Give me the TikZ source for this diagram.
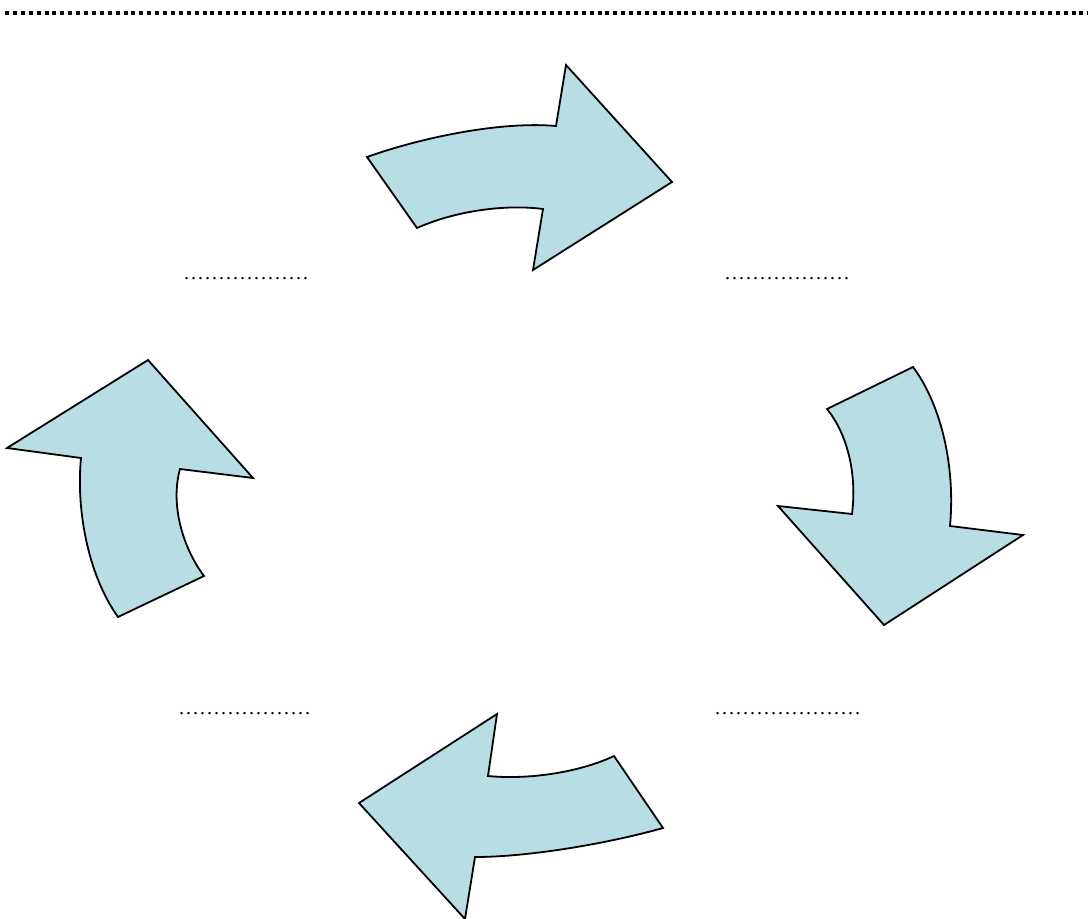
\documentclass[tikz,border=0pt]{standalone}
\usepackage{fontspec}
\setmainfont{Liberation Serif}
\newfontfamily\dotfont[LetterSpace=10]{Liberation Serif}
\definecolor{arrowfill}{RGB}{184,222,228}
\begin{document}
\begin{tikzpicture}[x=1pt,y=-1pt,
  cyclearrow/.style={fill=arrowfill,draw=black,line width=1.8pt,line join=miter},
  dotlabel/.style={anchor=base west,inner sep=0pt,font=\dotfont\fontsize{20}{20}\selectfont},
  border/.style={line width=4pt,dash pattern=on 4pt off 3.9pt}]
\useasboundingbox (0,0) rectangle (1088,919);
% top page border
\coordinate (bl) at (5,13.3);
\coordinate (br) at (1088,13.3);
\draw[border] (bl) -- (br);
% top arrow (right)
\draw[cyclearrow] (367,157) .. controls (420,138) and (500,121) .. (556,126)
  -- (566,65) -- (672,182) -- (533,270) -- (543,209)
  .. controls (505,204) and (455,211) .. (417,228) -- cycle;
% right arrow (down)
\draw[cyclearrow] (827,409) -- (913,367)
  .. controls (938,400) and (956,460) .. (950,526)
  -- (1023,535) -- (884,625) -- (778,506) -- (852,514)
  .. controls (857,475) and (848,435) .. (827,409) -- cycle;
% bottom arrow (left)
\draw[cyclearrow] (614,756) -- (663,828)
  .. controls (610,843) and (530,857) .. (475,857)
  -- (465,919) -- (359,803) -- (497,714) -- (488,776)
  .. controls (530,780) and (580,772) .. (614,756) -- cycle;
% left arrow (up)
\draw[cyclearrow] (118,617) -- (204,576)
  .. controls (183,548) and (170,505) .. (180,469)
  -- (253,478) -- (148,360) -- (7,448) -- (81,458)
  .. controls (76,510) and (88,575) .. (118,617) -- cycle;
% placeholder labels
\node[dotlabel] (l1) at (184,279) {..................};
\node[dotlabel] (l2) at (725,279) {..................};
\node[dotlabel] (l3) at (179,714) {...................};
\node[dotlabel] (l4) at (715,714) {.....................};
\end{tikzpicture}
\end{document}
